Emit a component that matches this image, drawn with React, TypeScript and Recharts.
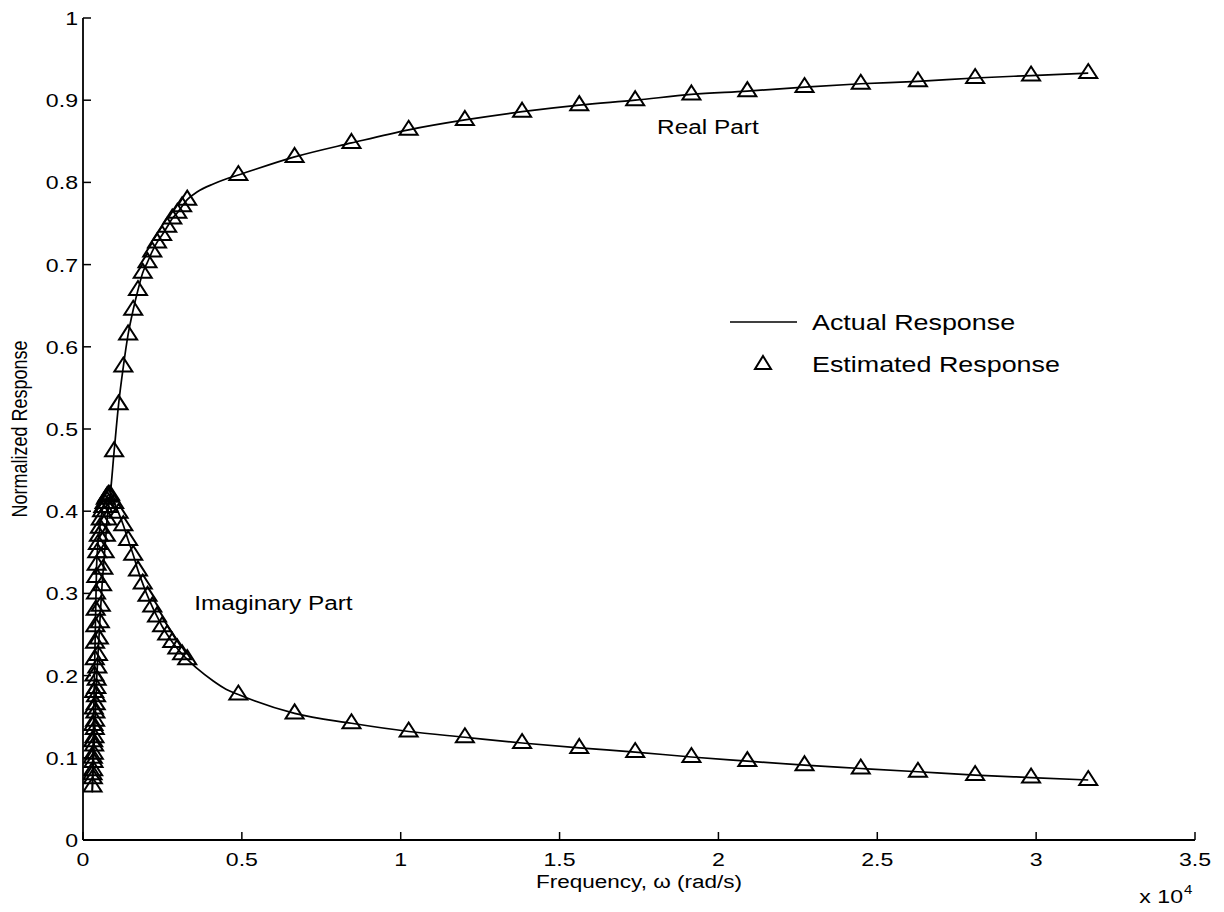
import React from "react";
import {
  ComposedChart,
  Label,
  Legend,
  Line,
  ReferenceDot,
  Scatter,
  XAxis,
  YAxis,
} from "recharts";

// Frequencies in units of 1e4 rad/s; low-frequency run is densely sampled.
const FREQ = [
  0.03, 0.031, 0.032, 0.033, 0.034, 0.035, 0.036, 0.037, 0.038, 0.039, 0.04, 0.041, 0.042,
  0.043, 0.045, 0.047, 0.05, 0.053, 0.056, 0.06, 0.064, 0.068, 0.072, 0.076, 0.08,
  0.085, 0.098, 0.112, 0.127, 0.142, 0.158, 0.173, 0.188, 0.203, 0.218, 0.233, 0.249,
  0.265, 0.281, 0.297, 0.312, 0.328,
  0.489, 0.666, 0.845, 1.025, 1.202, 1.382, 1.562, 1.738, 1.915, 2.091, 2.271, 2.448,
  2.628, 2.808, 2.984, 3.164,
];

const REAL = [
  0.065, 0.075, 0.085, 0.095, 0.105, 0.115, 0.125, 0.135, 0.145, 0.155, 0.165, 0.175, 0.185,
  0.195, 0.21, 0.225, 0.245, 0.265, 0.285, 0.31, 0.33, 0.35, 0.37, 0.39, 0.405,
  0.418, 0.473, 0.53, 0.576, 0.615, 0.645, 0.669, 0.69, 0.703, 0.716, 0.727, 0.736,
  0.746, 0.756, 0.763, 0.771, 0.779,
  0.809, 0.831, 0.848, 0.864, 0.876, 0.886, 0.894, 0.9, 0.907, 0.911, 0.916, 0.92,
  0.923, 0.927, 0.93, 0.933,
];

const IMAG = [
  0.08, 0.1, 0.12, 0.14, 0.16, 0.18, 0.2, 0.22, 0.24, 0.26, 0.28, 0.3, 0.32,
  0.335, 0.35, 0.36, 0.37, 0.38, 0.39, 0.4, 0.405, 0.41, 0.415, 0.418, 0.42,
  0.42, 0.41, 0.398, 0.383, 0.365, 0.347, 0.328, 0.312, 0.297, 0.284, 0.272, 0.26,
  0.25, 0.241, 0.233, 0.226, 0.22,
  0.177, 0.154, 0.142, 0.132, 0.125, 0.118, 0.112, 0.107, 0.101, 0.096, 0.091, 0.087,
  0.083, 0.079, 0.076, 0.073,
];

// extra readings of the analytic curve where there are no estimates
const ACTUAL_EXTRA_FREQ = [0.029, 0.36, 0.41, 0.45];
const ACTUAL_EXTRA_REAL = [0.058, 0.7886, 0.7981, 0.8041];
const ACTUAL_EXTRA_IMAG = [0.06, 0.2085, 0.1935, 0.1835];

const X_TICKS = [0, 0.5, 1, 1.5, 2, 2.5, 3, 3.5];
const Y_TICKS = [0, 0.1, 0.2, 0.3, 0.4, 0.5, 0.6, 0.7, 0.8, 0.9, 1];

const FONT = '"Liberation Sans", Arial, Helvetica, sans-serif';
const INK = "#000";
const TICK_FONT = 18.5;
const STRETCH = 1.25; // scanned figure is a little wider than tall
const TICK_LEN = 8;
const TICK_GAP = 10;

type Row = { freq: number; value: number };

const rows = (fs: number[], vs: number[]): Row[] => fs.map((f, i) => ({ freq: f, value: vs[i] }));
const byFreq = (a: Row, b: Row) => a.freq - b.freq;

const estReal = rows(FREQ, REAL);
const estImag = rows(FREQ, IMAG);
const actReal = [...estReal, ...rows(ACTUAL_EXTRA_FREQ, ACTUAL_EXTRA_REAL)].sort(byFreq);
const actImag = [...estImag, ...rows(ACTUAL_EXTRA_FREQ, ACTUAL_EXTRA_IMAG)].sort(byFreq);

const fmt = (v: number) => String(v);

const StretchText = ({ x, y, anchor = "start", size = TICK_FONT, rotate = 0, children }: any) => (
  <text
    transform={`translate(${x} ${y}) scale(${STRETCH} 1)${rotate ? ` rotate(${rotate})` : ""}`}
    textAnchor={anchor}
    fontSize={size}
    fontFamily={FONT}
    fill={INK}
  >
    {children}
  </text>
);

// open triangle marker, the point sits in its lower part
const Triangle = (props: any) => {
  const { cx, cy } = props;
  if (cx == null || cy == null) return null;
  return (
    <path
      d={`M${cx},${cy - 9} L${cx + 9},${cy + 5} L${cx - 9},${cy + 5} Z`}
      fill="none"
      stroke={INK}
      strokeWidth={2}
    />
  );
};

// inward ticks on all four sides, MATLAB-style box
const BottomTick = (props: any) => {
  const { x, y, payload } = props;
  const axisY = y - TICK_GAP;
  return (
    <g>
      <line x1={x} x2={x} y1={axisY} y2={axisY - TICK_LEN} stroke={INK} strokeWidth={1.5} />
      <StretchText x={x} y={axisY + 26} anchor="middle">
        {fmt(payload.value)}
      </StretchText>
    </g>
  );
};

const TopTick = (props: any) => {
  const { x, y } = props;
  const axisY = y + TICK_GAP;
  return <line x1={x} x2={x} y1={axisY} y2={axisY + TICK_LEN} stroke={INK} strokeWidth={1.5} />;
};

const LeftTick = (props: any) => {
  const { x, y, payload } = props;
  const axisX = x + TICK_GAP;
  return (
    <g>
      <line x1={axisX} x2={axisX + TICK_LEN} y1={y} y2={y} stroke={INK} strokeWidth={1.5} />
      <StretchText x={axisX - 5} y={y + 7} anchor="end">
        {fmt(payload.value)}
      </StretchText>
    </g>
  );
};

const RightTick = (props: any) => {
  const { x, y } = props;
  const axisX = x - TICK_GAP;
  return <line x1={axisX} x2={axisX - TICK_LEN} y1={y} y2={y} stroke={INK} strokeWidth={1.5} />;
};

const LegendBox = () => (
  <svg width={420} height={90} style={{ overflow: "visible" }}>
    <line x1={10} x2={77} y1={20} y2={20} stroke={INK} strokeWidth={1.7} />
    <StretchText x={92} y={28} size={21.5}>
      Actual Response
    </StretchText>
    <path d="M43,54 L51,67 L35,67 Z" fill="none" stroke={INK} strokeWidth={2} />
    <StretchText x={92} y={70} size={21.5}>
      Estimated Response
    </StretchText>
  </svg>
);

const XTitle = (props: any) => {
  const { viewBox } = props;
  return (
    <StretchText x={viewBox.x + viewBox.width / 2} y={viewBox.y + 48} anchor="middle" size={18}>
      Frequency, ω (rad/s)
    </StretchText>
  );
};

const YTitle = (props: any) => {
  const { viewBox } = props;
  return (
    <StretchText x={viewBox.x + 27} y={viewBox.y + viewBox.height / 2} anchor="middle" rotate={-90} size={18}>
      Normalized Response
    </StretchText>
  );
};

const ExponentLabel = (props: any) => {
  const { viewBox } = props;
  const right = viewBox.x + viewBox.width;
  return (
    <g>
      <StretchText x={right - 12} y={viewBox.y + 63} anchor="end">
        x 10
      </StretchText>
      <StretchText x={right - 11} y={viewBox.y + 54} size={12}>
        4
      </StretchText>
    </g>
  );
};

const PartLabel = (props: any) => {
  const { viewBox, text } = props;
  return (
    <StretchText x={viewBox.x} y={viewBox.y + 7} size={19.5}>
      {text}
    </StretchText>
  );
};

export default function App() {
  return (
    <div style={{ position: "absolute", left: 0, top: 0, background: "#fff" }}>
      <ComposedChart
        width={1224}
        height={912}
        margin={{ top: 18, right: 29, bottom: 0, left: 0 }}
      >
        <XAxis
          xAxisId="b"
          dataKey="freq"
          type="number"
          domain={[0, 3.5]}
          ticks={X_TICKS}
          height={72}
          tickSize={0}
          tickMargin={TICK_GAP}
          tick={<BottomTick />}
          axisLine={{ stroke: INK, strokeWidth: 1.8 }}
          allowDataOverflow
        >
          <Label content={<XTitle />} />
          <Label content={<ExponentLabel />} />
        </XAxis>
        <XAxis
          xAxisId="t"
          orientation="top"
          dataKey="freq"
          type="number"
          domain={[0, 3.5]}
          ticks={X_TICKS}
          height={0}
          tickSize={0}
          tickMargin={TICK_GAP}
          tick={<TopTick />}
          axisLine={{ stroke: INK, strokeWidth: 1.8 }}
        />
        <YAxis
          yAxisId="l"
          type="number"
          domain={[0, 1]}
          ticks={Y_TICKS}
          width={83}
          tickSize={0}
          tickMargin={TICK_GAP}
          tick={<LeftTick />}
          axisLine={{ stroke: INK, strokeWidth: 1.8 }}
        >
          <Label content={<YTitle />} />
        </YAxis>
        <YAxis
          yAxisId="r"
          orientation="right"
          type="number"
          domain={[0, 1]}
          ticks={Y_TICKS}
          width={0}
          tickSize={0}
          tickMargin={TICK_GAP}
          tick={<RightTick />}
          axisLine={{ stroke: INK, strokeWidth: 1.8 }}
        />

        <Line
          xAxisId="b"
          yAxisId="l"
          data={actReal}
          dataKey="value"
          type="monotone"
          stroke={INK}
          strokeWidth={1.7}
          dot={false}
          activeDot={false}
          isAnimationActive={false}
        />
        <Line
          xAxisId="b"
          yAxisId="l"
          data={actImag}
          dataKey="value"
          type="monotone"
          stroke={INK}
          strokeWidth={1.7}
          dot={false}
          activeDot={false}
          isAnimationActive={false}
        />
        <Scatter
          xAxisId="b"
          yAxisId="l"
          data={estReal}
          dataKey="value"
          shape={<Triangle />}
          isAnimationActive={false}
        />
        <Scatter
          xAxisId="b"
          yAxisId="l"
          data={estImag}
          dataKey="value"
          shape={<Triangle />}
          isAnimationActive={false}
        />

        <ReferenceDot
          xAxisId="b"
          yAxisId="l"
          x={1.807}
          y={0.867}
          r={0}
          label={<PartLabel text="Real Part" />}
        />
        <ReferenceDot
          xAxisId="b"
          yAxisId="l"
          x={0.35}
          y={0.288}
          r={0}
          label={<PartLabel text="Imaginary Part" />}
        />

        <Legend
          layout="vertical"
          align="center"
          verticalAlign="middle"
          content={<LegendBox />}
          wrapperStyle={{ position: "absolute", left: 720, top: 302, width: 420 }}
        />
      </ComposedChart>
    </div>
  );
}
